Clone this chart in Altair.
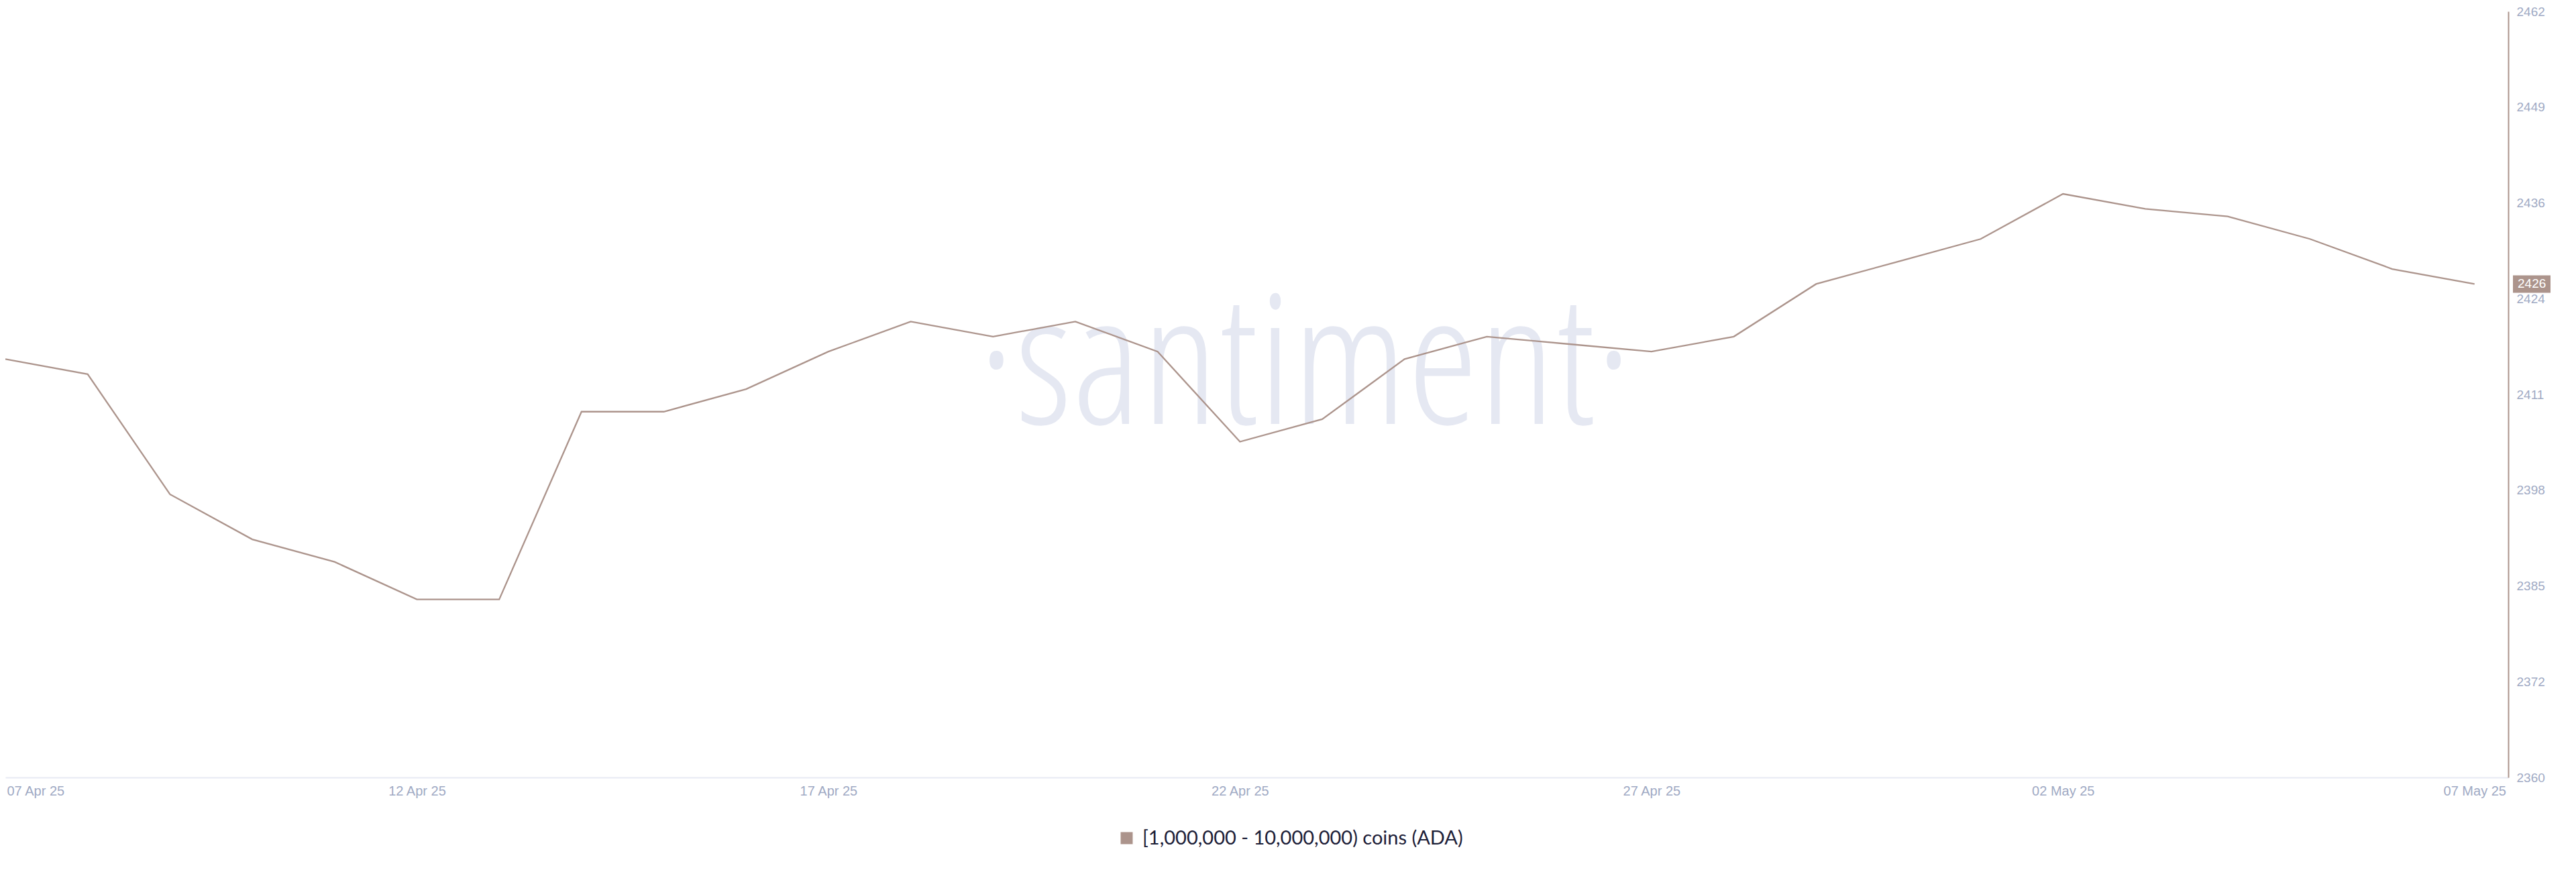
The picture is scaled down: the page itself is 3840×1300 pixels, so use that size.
import altair as alt
import pandas as pd

# ---- data ----
dates = pd.date_range("2025-04-07", "2025-05-07", freq="D").strftime("%Y-%m-%d").tolist()
holders = [2416, 2414, 2398, 2392, 2389, 2384, 2384, 2409, 2409, 2412, 2417, 2421, 2419,
           2421, 2417, 2405, 2408, 2416, 2419, 2418, 2417, 2419, 2426, 2429, 2432, 2438,
           2436, 2435, 2432, 2428, 2426]
series_name = "[1,000,000 - 10,000,000) coins (ADA)"
x_tick_dates = [(2025, 4, 7), (2025, 4, 12), (2025, 4, 17), (2025, 4, 22),
                (2025, 4, 27), (2025, 5, 2), (2025, 5, 7)]
y_tick_labels = ["2360", "2372", "2385", "2398", "2411", "2424", "2436", "2449", "2462"]
y_domain = [2360.3, 2462.3]

# ---- styles ----
COLOR = "#ac948c"
TICK_COLOR = "#9faac4"
WM_COLOR = "#e5e8f2"
W, H = 3731, 1142
TOP = 9

df = pd.DataFrame({"date": dates, "v": holders, "series": series_name})
last_df = df.iloc[[-1]]

n = len(y_tick_labels) - 1
step = (y_domain[1] - y_domain[0]) / n
y_values = [y_domain[0] + i * step for i in range(n + 1)]
label_list = "[" + ",".join("'" + s + "'" for s in y_tick_labels) + "]"
y_label_expr = f"{label_list}[round((datum.value - {y_domain[0]}) / {step})]"

x_scale = alt.Scale(type="utc",
                    domain=[alt.DateTime(year=2025, month=4, date=7, utc=True),
                            alt.DateTime(year=2025, month=5, date=7, hours=9, minutes=50, utc=True)])
y_scale = alt.Scale(domain=y_domain, nice=False, zero=False)

x_axis = alt.Axis(values=[alt.DateTime(year=y, month=m, date=d, utc=True) for (y, m, d) in x_tick_dates],
                  format="%d %b %y", title=None, ticks=False, grid=False,
                  domainColor="#e7eaf3", domainWidth=2, labelColor=TICK_COLOR,
                  labelFont="Liberation Sans", labelFontSize=20, labelPadding=10,
                  labelFlush=True, labelFlushOffset=-2, labelOverlap=False)


def y_axis():
    return alt.Axis(orient="right", values=y_values, labelExpr=y_label_expr, title=None,
                    ticks=False, grid=False, domainColor=COLOR, domainWidth=2,
                    labelColor=TICK_COLOR, labelFont="Liberation Sans", labelFontSize=19,
                    labelPadding=12, labelOverlap=False)


watermark = alt.Chart(pd.DataFrame({"t": ["·santiment·"]})).mark_text(
    align="center", baseline="alphabetic", fontSize=270, fontWeight=300,
    font="Open Sans Condensed Light, Open Sans Condensed",
    color=WM_COLOR
).encode(x=alt.value(1937.5), y=alt.value(632 - 8 - TOP), text="t:N")

line = alt.Chart(df).mark_line(color=COLOR, strokeWidth=2.3).encode(
    x=alt.X("date:T", scale=x_scale, axis=x_axis),
    y=alt.Y("v:Q", scale=y_scale, axis=y_axis()),
)

badge = alt.Chart(last_df).mark_rect(yOffset=-13, y2Offset=13).encode(
    x=alt.value(W + 7), x2=alt.value(W + 63),
    y=alt.Y("v:Q", scale=y_scale, axis=y_axis()), y2="v:Q",
    color=alt.Color("series:N", scale=alt.Scale(range=[COLOR]),
                    legend=alt.Legend(title=None, orient="none", legendX=1657, legendY=1227 - TOP,
                                      symbolType="square", symbolSize=324, symbolStrokeWidth=0,
                                      labelFont="Lato", labelFontSize=29, labelColor="#1d2038",
                                      labelOffset=9, padding=0, labelLimit=1000)),
)

badge_text = alt.Chart(last_df).mark_text(
    align="left", baseline="middle", color="white", font="Liberation Sans", fontSize=19
).encode(
    x=alt.value(W + 14),
    y=alt.Y("v:Q", scale=y_scale, axis=y_axis()),
    text=alt.Text("v:Q"),
)

chart = alt.layer(watermark, line, badge, badge_text).properties(
    width=W, height=H,
    autosize=alt.AutoSizeParams(type="none"),
    padding={"left": 0, "top": TOP, "right": 93, "bottom": 118},
    background="white",
).configure_view(stroke=None)

chart.save("out.html", embed_options={"renderer": "svg", "actions": False})
